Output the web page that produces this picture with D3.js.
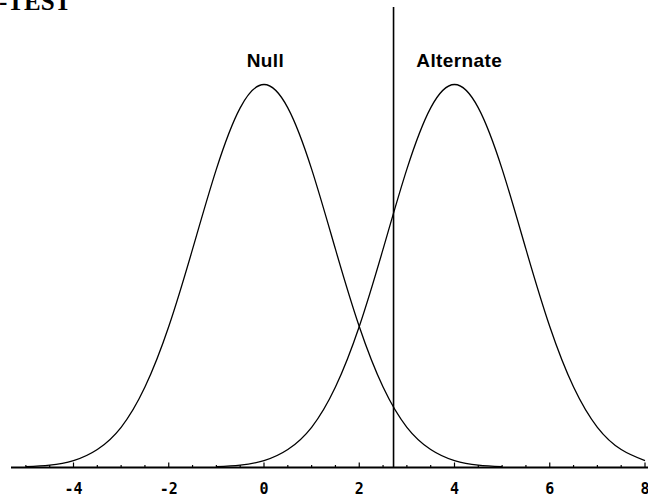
<!DOCTYPE html>
<html>
<head>
<meta charset="utf-8">
<script src="https://cdn.jsdelivr.net/npm/d3@7"></script>
<style>
  html, body { margin: 0; padding: 0; background: #fff; }
  svg { display: block; }
</style>
</head>
<body>
<script>
// ---- data ----
const title = "-TEST";
const curveLabels = ["Null", "Alternate"];
// x positions and relative heights (peak = 1) of the Null curve
const nullX = [-5,-4.5,-4,-3.5,-3,-2.5,-2,-1.5,-1,-0.5,0,0.5,1,1.5,2,2.5,3,3.5,4,4.5,5];
const nullY = [0.002,0.006,0.018,0.047,0.105,0.210,0.368,0.570,0.779,0.939,1.000,0.939,0.779,0.570,0.368,0.210,0.105,0.047,0.018,0.006,0.002];
// x positions and relative heights of the Alternate curve
const altX = [-1,-0.5,0,0.5,1,1.5,2,2.5,3,3.5,4,4.5,5,5.5,6,6.5,7,7.5,8];
const altY = [0.002,0.006,0.018,0.047,0.105,0.210,0.368,0.570,0.779,0.939,1.000,0.939,0.779,0.570,0.368,0.210,0.105,0.047,0.018];
const criticalValue = 2.72;
const majorTicks = [-4,-2,0,2,4,6,8];
const minorTicks = [-5,-4.5,-4,-3.5,-3,-2.5,-2,-1.5,-1,-0.5,0,0.5,1,1.5,2,2.5,3,3.5,4,4.5,5,5.5,6,6.5,7,7.5,8];

// ---- drawing ----
const W = 648, H = 498;
const svg = d3.select("body").append("svg").attr("width", W).attr("height", H);

const x = d3.scaleLinear().domain([0, 8]).range([264, 645]);
const y = d3.scaleLinear().domain([0, 1]).range([467.5, 84.5]);

// title (cropped at top, as in the original)
svg.append("text").attr("x", -1).attr("y", 9.5)
  .attr("font-family", "'Liberation Serif', 'Times New Roman', serif")
  .attr("font-weight", "bold").attr("font-size", 25)
  .text(title);

// curves
const line = d3.line().x(d => x(d[0])).y(d => y(d[1])).curve(d3.curveNatural);
const series = [d3.zip(nullX, nullY), d3.zip(altX, altY)];
svg.selectAll("path.curve").data(series).enter().append("path")
  .attr("class", "curve")
  .attr("d", line)
  .attr("fill", "none").attr("stroke", "#000").attr("stroke-width", 1.3);

// critical value line
svg.append("line")
  .attr("x1", x(criticalValue)).attr("x2", x(criticalValue))
  .attr("y1", 7).attr("y2", 467.5)
  .attr("stroke", "#000").attr("stroke-width", 1.6);

// axis line
svg.append("line").attr("x1", 11).attr("x2", 648).attr("y1", 467.5).attr("y2", 467.5)
  .attr("stroke", "#000").attr("stroke-width", 2);

// ticks (pointing up)
svg.selectAll("line.minor").data(minorTicks).enter().append("line")
  .attr("x1", d => x(d)).attr("x2", d => x(d))
  .attr("y1", d => majorTicks.includes(d) ? 462.5 : 465).attr("y2", 467.5)
  .attr("stroke", "#000").attr("stroke-width", 1.2);

// tick labels
svg.selectAll("text.tick").data(majorTicks).enter().append("text")
  .attr("x", d => x(d)).attr("y", 493.5)
  .attr("text-anchor", "middle")
  .attr("font-family", "'DejaVu Sans Mono', 'Liberation Mono', monospace")
  .attr("font-weight", "bold").attr("font-size", 15)
  .text(d => d3.format("d")(d).replace("−", "-"));

// curve labels
const labelPos = [[0.03, 66.7], [4.1, 66.7]];
svg.selectAll("text.lbl").data(curveLabels).enter().append("text")
  .attr("x", (d, i) => x(labelPos[i][0])).attr("y", (d, i) => labelPos[i][1])
  .attr("text-anchor", "middle")
  .attr("font-family", "'Liberation Sans', Arial, sans-serif")
  .attr("font-weight", "bold").attr("font-size", 19)
  .attr("letter-spacing", 0.4)
  .text(d => d);
</script>
</body>
</html>
